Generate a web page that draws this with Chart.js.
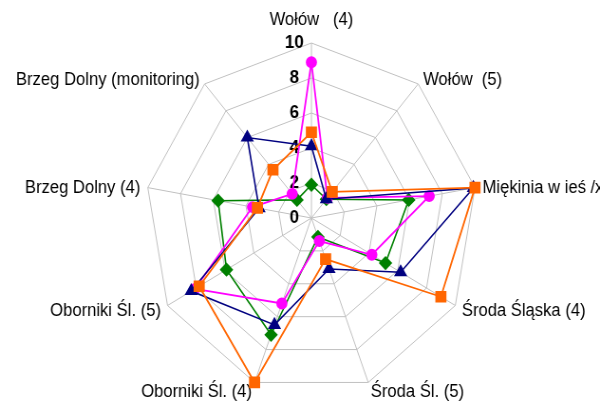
<!DOCTYPE html>
<html>
<head>
<meta charset="utf-8">
<script src="https://cdn.jsdelivr.net/npm/chart.js@4/dist/chart.umd.min.js"></script>
<style>
  html, body { margin: 0; padding: 0; background: #fff; }
  /* the original picture is squeezed sideways, so draw wider and let the browser narrow it */
  #chart { display: block; width: 600px !important; height: 401px !important; }
</style>
</head>
<body>
<canvas id="chart" width="632" height="401" style="width:600px;height:401px"></canvas>
<script>
// categories round the radar, clockwise from the top
const categories = [
  'Wołów   (4)', 'Wołów  (5)', 'Miękinia w ieś /x', 'Środa Śląska (4)',
  'Środa Śl. (5)', 'Oborniki Śl. (4)', 'Oborniki Śl. (5)',
  'Brzeg Dolny (4)', 'Brzeg Dolny (monitoring)'
];

// values
const orangeValues  = [4.9, 1.95, 10,  9.0,  2.5,  10,  7.8,  3.3, 3.6];
const navyValues    = [4.1, 1.4,  9.9, 6.2,  3.1,  6.5, 8.35, 3.2, 6.0];
const magentaValues = [8.9, 1.5,  7.2, 4.2,  1.4,  5.2, 8.1,  3.6, 1.8];
const greenValues   = [1.9, 1.4,  5.95, 5.15, 1.15, 7.1, 5.9,  5.7, 1.35];

const tickValues = [0, 2, 4, 6, 8, 10];

// axis numbers and category names, drawn Excel style (beside the axis, at the spoke ends)
const excelLabels = {
  id: 'excelLabels',
  beforeDatasetsDraw(chart) {
    const scale = chart.scales.r;
    const ctx = chart.ctx;
    ctx.save();
    ctx.fillStyle = '#000';

    ctx.font = 'bold 18px "Liberation Sans", Arial, sans-serif';
    ctx.textAlign = 'center';
    ctx.textBaseline = 'middle';
    tickValues.forEach(v => {
      const y = scale.yCenter - scale.getDistanceFromCenterForValue(v);
      ctx.fillText(String(v), scale.xCenter - 18, y);
    });

    ctx.font = '17.5px "Liberation Sans", Arial, sans-serif';
    categories.forEach((name, i) => {
      const p = scale.getPointPosition(i, scale.drawingArea + 8);
      const dx = p.x - scale.xCenter;
      if (Math.abs(dx) < 1) {
        ctx.textAlign = 'center';
        ctx.textBaseline = 'alphabetic';
        ctx.fillText(name, p.x, scale.yCenter - scale.drawingArea - 18);
      } else {
        ctx.textAlign = dx > 0 ? 'left' : 'right';
        ctx.textBaseline = 'middle';
        ctx.fillText(name, p.x, p.y + 2);
      }
    });
    ctx.restore();
  }
};

const gridGrey = '#c0c0c0';

new Chart(document.getElementById('chart'), {
  type: 'radar',
  data: {
    labels: categories,
    datasets: [
      {
        label: 'seria 4',
        data: orangeValues,
        borderColor: '#ff6600',
        backgroundColor: '#ff6600',
        borderWidth: 1.8,
        pointStyle: 'rect',
        pointRadius: 7,
        fill: false
      },
      {
        label: 'seria 3',
        data: navyValues,
        borderColor: '#000080',
        backgroundColor: '#000080',
        borderWidth: 1.6,
        pointStyle: 'triangle',
        pointRadius: 6.5,
        fill: false
      },
      {
        label: 'seria 2',
        data: magentaValues,
        borderColor: '#ff00ff',
        backgroundColor: '#ff00ff',
        borderWidth: 1.8,
        pointStyle: 'circle',
        pointRadius: 5,
        fill: false
      },
      {
        label: 'seria 1',
        data: greenValues,
        borderColor: '#008000',
        backgroundColor: '#008000',
        borderWidth: 1.6,
        pointStyle: 'rectRot',
        pointRadius: 6,
        fill: false
      }
    ]
  },
  options: {
    responsive: false,
    animation: false,
    devicePixelRatio: 1,
    layout: { padding: { top: 43, bottom: 8, left: 24, right: 0 } },
    elements: {
      line: { tension: 0 },
      point: { borderWidth: 1, hoverRadius: 6 }
    },
    plugins: {
      legend: { display: false },
      title: { display: false },
      tooltip: { enabled: false }
    },
    scales: {
      r: {
        min: 0,
        max: 10,
        ticks: { stepSize: 2, display: false },
        pointLabels: { display: false },
        grid: { color: gridGrey, lineWidth: 1 },
        angleLines: { color: gridGrey, lineWidth: 1 }
      }
    }
  },
  plugins: [excelLabels]
});
</script>
</body>
</html>
